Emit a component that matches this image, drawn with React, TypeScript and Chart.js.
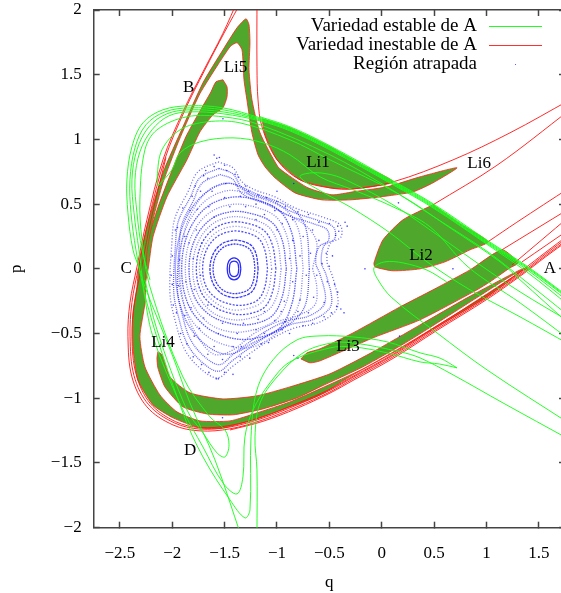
import React, { useEffect, useRef } from "react";
import { Chart, registerables } from "chart.js";
Chart.register(...registerables);

type P = [number, number];

const qTicks = [-2.5, -2, -1.5, -1, -0.5, 0, 0.5, 1, 1.5];
const pTicks = [-2, -1.5, -1, -0.5, 0, 0.5, 1, 1.5, 2];
const legendNames = ["Variedad estable de A", "Variedad inestable de A", "Región atrapada"];
const pointNames = ["Li5", "B", "Li1", "Li6", "Li2", "Li3", "Li4", "A", "C", "D"];
const pointQ = [-1.396, -1.843, -0.608, 0.93, 0.375, -0.322, -2.088, 1.606, -2.44, -1.83];
const pointP = [1.553, 1.399, 0.819, 0.811, 0.1, -0.603, -0.572, 0, 0, -1.4];

// Filled lobes
const lobeOuter: P[] = [[1.388,.015],[1.006,-.216],[.528,-.448],[.108,-.649],[-.274,-.819],[-.589,-.974],[-.876,-1.066],[-1.191,-1.159],[-1.516,-1.229],[-1.735,-1.229],[-1.993,-1.151],[-2.184,-1.051],[-2.328,-.858],[-2.375,-.603],[-2.375,-.34],[-2.337,-.139],[-2.318,.046],[-2.242,.325],[-2.089,.742],[-1.898,1.097],[-1.707,1.437],[-1.516,1.692],[-1.382,1.862],[-1.296,1.932],[-1.267,1.886],[-1.258,1.747],[-1.267,1.538],[-1.239,1.306],[-1.162,1.051],[-.99,.788],[-.895,.726],[-.704,.626],[-.475,.572],[-.274,.595],[.05,.634],[.366,.711],[.719,.781],[.49,.665],[.299,.595],[-.016,.556],[-.303,.533],[-.57,.533],[-.828,.587],[-1.019,.703],[-1.114,.788],[-1.181,.881],[-1.239,1.051],[-1.287,1.306],[-1.315,1.461],[-1.334,1.692],[-1.382,1.747],[-1.449,1.716],[-1.726,1.368],[-1.821,1.206],[-1.945,.974],[-2.089,.665],[-2.184,.379],[-2.242,.124],[-2.261,-.263],[-2.309,-.525],[-2.261,-.757],[-2.118,-.974],[-1.955,-1.105],[-1.735,-1.175],[-1.449,-1.175],[-1.191,-1.113],[-.876,-1.028],[-.589,-.927],[-.179,-.773],[.242,-.58],[.681,-.363],[1.254,-.062],[1.388,.015]];
const lobeLi4: P[] = [[-2.137,-.641],[-2.098,-.665],[-2.022,-.835],[-1.831,-.958],[-1.516,-1.005],[-1.191,-.981],[-.876,-.912],[-.494,-.811],[-.083,-.641],[.366,-.433],[.815,-.224],[1.321,-.008],[1.396,.008],[1.254,-.046],[.681,-.34],[.242,-.564],[-.179,-.757],[-.589,-.912],[-.809,-.997],[-1.134,-1.082],[-1.42,-1.128],[-1.668,-1.121],[-1.898,-1.066],[-2.07,-.912],[-2.137,-.765],[-2.146,-.688],[-2.137,-.641]];
const lobeLi3: P[] = [[-.771,-.696],[-.713,-.649],[-.589,-.618],[-.274,-.495],[.175,-.294],[.49,-.162],[.843,-.008],[1.148,.147],[1.301,.046],[1.225,.008],[1.034,-.1],[.91,-.162],[.366,-.394],[-.083,-.533],[-.589,-.711],[-.685,-.726],[-.771,-.696]];
const lobeLi2: P[] = [[.49,.495],[.748,.348],[1.014,.209],[.843,.147],[.604,.054],[.366,0],[.108,-.015],[-.064,.015],[-.074,.046],[.012,.224],[.203,.379],[.49,.495]];
const lobeLi1: P[] = [[-1.143,1.159],[-.876,1.09],[-.494,.943],[-.207,.811],[.108,.672],[-.274,.618],[-.494,.626],[-.78,.688],[-.999,.842],[-1.114,1.036],[-1.143,1.159]];
const lobeB: P[] = [[-1.516,1.461],[-1.477,1.406],[-1.477,1.329],[-1.516,1.244],[-1.611,1.19],[-1.735,1.059],[-1.86,.842],[-2.051,.556],[-2.184,.247],[-2.232,-.008],[-2.299,-.24],[-2.29,-.008],[-2.242,.201],[-2.135,.479],[-2.0,.765],[-1.87,1.02],[-1.745,1.206],[-1.63,1.368],[-1.583,1.445],[-1.516,1.461]];

// Unstable manifold
const redA: P[] = [[-1.372,2.08],[-1.516,1.82],[-1.707,1.522],[-1.898,1.214],[-2.089,.842],[-2.242,.379],[-2.337,.015],[-2.404,-.263],[-2.423,-.525],[-2.385,-.835],[-2.242,-1.066],[-1.993,-1.206],[-1.735,-1.252],[-1.449,-1.236],[-1.134,-1.167],[-.809,-1.066],[-.494,-.951],[-.274,-.85],[.108,-.68],[.528,-.464],[1.006,-.224],[1.35,-.031],[1.56,.1],[1.798,.24]];
const redB: P[] = [[-1.33,2.08],[-1.5,1.83],[-1.69,1.535],[-1.88,1.225],[-2.07,.85],[-2.225,.385],[-2.32,.02],[-2.385,-.26],[-2.403,-.525],[-2.365,-.825],[-2.225,-1.05],[-1.98,-1.19],[-1.735,-1.238],[-1.449,-1.222],[-1.134,-1.153],[-.809,-1.052],[-.494,-.938],[-.274,-.838],[.108,-.668],[.528,-.452],[1.006,-.212],[1.35,-.02],[1.56,.113],[1.798,.255]];
const redC: P[] = [[-2.06,.86],[-2.2,.39],[-2.29,.02],[-2.36,-.26],[-2.385,-.525],[-2.345,-.815],[-2.21,-1.04],[-1.97,-1.18],[-1.735,-1.226],[-1.449,-1.21],[-1.134,-1.142],[-.809,-1.04],[-.494,-.93],[-.274,-.83],[.108,-.66],[.528,-.44],[1.006,-.2],[1.35,-.005],[1.56,.125],[1.798,.27]];
const redD: P[] = [[-1.449,-1.245],[-1.134,-1.178],[-.809,-1.078],[-.494,-.96],[-.274,-.862],[.108,-.692],[.528,-.475],[1.006,-.235],[1.35,-.04],[1.56,.09],[1.798,.23]];
const redE: P[] = [[-1.191,2.1],[-1.191,1.561],[-1.181,1.306],[-1.143,1.097],[-.999,.842],[-.78,.688],[-.494,.626],[-.274,.618],[.108,.672],[.681,.842],[1.225,1.051],[1.798,1.306]];
const redF: P[] = [[.49,.495],[1.1,.8],[1.8,1.23]];
const redG: P[] = [[1.014,.209],[1.29,.36],[1.8,.63]];
const redH: P[] = [[1.148,.147],[1.8,.47]];
const redI: P[] = [[1.34,.054],[1.8,.31]];
const redJ: P[] = [[1.244,.03],[1.8,.41]];

// Stable manifold
const greenE1: P[] = [[-1.344,-2.06],[-1.592,-1.476],[-1.831,-1.036],[-1.993,-.68],[-2.261,-.139],[-2.309,-.008],[-2.375,.147],[-2.423,.433],[-2.433,.688],[-2.385,.943],[-2.28,1.128],[-2.089,1.229],[-1.831,1.26],[-1.516,1.244],[-1.162,1.167],[-.876,1.09],[-.494,.943],[.108,.672],[.49,.495],[1.014,.209],[1.396,.008],[1.798,-.232]];
const greenE2: P[] = [[.719,-.765],[.55,-.735],[.366,-.719],[.05,-.649],[-.274,-.603],[-.494,-.611],[-.876,-.719],[-1.067,-.881],[-1.229,-1.09],[-1.306,-1.298],[-1.325,-1.607],[-1.382,-1.739],[-1.516,-1.654],[-1.707,-1.376],[-1.898,-1.09],[-2.184,-.525],[-2.28,-.139],[-2.347,.147],[-2.394,.433],[-2.404,.688],[-2.356,.935],[-2.251,1.113],[-2.07,1.213],[-1.831,1.244],[-1.516,1.229],[-1.162,1.159],[-.876,1.082],[-.494,.935],[.108,.664],[.49,.487],[1.014,.201],[1.396,0],[1.798,-.24]];
const greenE3: P[] = [[.719,-.765],[.557,-.69],[.366,-.649],[.05,-.564],[-.274,-.526],[-.589,-.518],[-.809,-.549],[-1.038,-.703],[-1.191,-.935],[-1.248,-1.298],[-1.258,-1.862],[-1.306,-1.924],[-1.449,-1.785],[-1.707,-1.453],[-1.898,-1.113],[-2.242,-.263],[-2.318,.147],[-2.365,.433],[-2.385,.688],[-2.337,.92],[-2.223,1.097],[-2.051,1.198],[-1.831,1.229],[-1.516,1.213],[-1.162,1.151],[-.876,1.074],[-.494,.927],[.108,.657],[.49,.479],[1.014,.193],[1.396,-.012],[1.798,-.262]];
const greenE4: P[] = [[-2.213,-.085],[-2.289,.147],[-2.337,.433],[-2.356,.688],[-2.309,.904],[-2.194,1.074],[-2.032,1.182],[-1.831,1.213],[-1.516,1.198],[-1.162,1.143],[-.876,1.066],[-.494,.919],[.108,.649],[.49,.471],[1.014,.185],[1.396,-.03],[1.798,-.29]];
const greenE5: P[] = [[-1.162,1.175],[-.876,1.098],[-.494,.951],[.108,.68],[.49,.503],[1.014,.217],[1.396,.016],[1.798,-.225]];
const greenLong: P[] = [[-1.191,-2.06],[-1.191,-1.553],[-1.21,-1.298],[-1.162,-1.036],[-.999,-.835],[-.751,-.649],[-.494,-.575],[-.274,-.572],[.175,-.641],[.366,-.688],[.681,-.819],[1.158,-1.036],[1.798,-1.321]];
const greenLoop: P[] = [[1.798,-.371],[1.321,-.062],[1.014,.131],[.557,.371],[.05,.634],[-.494,.881],[-1.162,1.113],[-1.516,1.175],[-1.86,1.175],[-2.146,1.074],[-2.261,.92],[-2.309,.533],[-2.289,.224],[-2.213,-.139],[-1.898,-.835],[-1.64,-1.144],[-1.497,-1.244],[-1.458,-1.36],[-1.497,-1.453],[-1.573,-1.422],[-1.707,-1.267],[-1.86,-1.09],[-2.146,-.471],[-2.261,-.085]];
const greenC: P[] = [[-2.135,.641],[-2.144,.711],[-2.098,.92],[-1.926,1.074],[-1.668,1.136],[-1.353,1.128],[-.876,.997],[-.494,.842],[.175,.572],[.652,.317],[1.13,.054],[1.321,-.085],[1.798,-.433]];
const greenD: P[] = [[-2.135,.641],[-2.003,.765],[-1.926,.896],[-1.735,.981],[-1.42,1.012],[-1.134,.974],[-.876,.881],[-.589,.711],[-.274,.611],[.108,.479],[.461,.325],[.824,.015],[1.321,-.263],[1.798,-.549]];
const greenF: P[] = [[1.798,-.41],[1.321,-.178],[.938,.031],[.557,.247],[.108,.495],[-.303,.672],[-.475,.726],[-.666,.742],[-.78,.711],[-.57,.595],[-.303,.479],[.079,.278],[.433,.054],[.843,-.162],[1.321,-.371],[1.798,-.587]];
const greenH: P[] = [[.62,-.1],[.433,-.01],[.203,.046],[.03,.054],[-.074,.008],[-.035,-.085],[.098,-.224],[.528,-.495],[1.006,-.781],[1.798,-1.198]];

// Trapped region: invariant curves, inner to outer
const orbit1: P[] = [[-1.365,0],[-1.375,.045],[-1.41,.06],[-1.445,.045],[-1.455,0],[-1.445,-.045],[-1.41,-.06],[-1.375,-.045],[-1.365,0]];
const orbit2: P[] = [[-1.345,0],[-1.36,.06],[-1.41,.085],[-1.46,.06],[-1.475,0],[-1.46,-.06],[-1.41,-.085],[-1.36,-.06],[-1.345,0]];
const orbit3: P[] = [[-1.21,0],[-1.226,.095],[-1.266,.156],[-1.35,.186],[-1.43,.19],[-1.52,.162],[-1.586,.095],[-1.61,0],[-1.586,-.095],[-1.52,-.162],[-1.43,-.19],[-1.35,-.186],[-1.266,-.156],[-1.226,-.095],[-1.21,0]];
const orbit4: P[] = [[-1.18,0],[-1.198,.11],[-1.244,.18],[-1.341,.216],[-1.433,.22],[-1.537,.187],[-1.612,.11],[-1.64,0],[-1.612,-.11],[-1.537,-.187],[-1.433,-.22],[-1.341,-.216],[-1.244,-.18],[-1.198,-.11],[-1.18,0]];
const orbit5: P[] = [[-1.09,0],[-1.116,.145],[-1.18,.238],[-1.314,.284],[-1.44,.29],[-1.575,.247],[-1.674,.145],[-1.71,0],[-1.674,-.14],[-1.575,-.23],[-1.44,-.274],[-1.314,-.28],[-1.18,-.238],[-1.116,-.14],[-1.09,0]];
const orbit5b: P[] = [[-1.05,0],[-1.08,.162],[-1.15,.266],[-1.3,.318],[-1.443,.325],[-1.59,.276],[-1.7,.162],[-1.74,0],[-1.7,-.158],[-1.59,-.26],[-1.443,-.315],[-1.3,-.31],[-1.15,-.262],[-1.08,-.158],[-1.05,0]];
const orbit6: P[] = [[-1.01,0],[-1.042,.18],[-1.122,.295],[-1.29,.353],[-1.446,.36],[-1.608,.306],[-1.727,.18],[-1.77,0],[-1.727,-.175],[-1.608,-.287],[-1.446,-.343],[-1.29,-.35],[-1.122,-.298],[-1.042,-.175],[-1.01,0]];
const orbit6b: P[] = [[-.96,0],[-.995,.2],[-1.085,.327],[-1.275,.39],[-1.45,.4],[-1.627,.34],[-1.757,.2],[-1.805,0],[-1.757,-.195],[-1.627,-.33],[-1.45,-.39],[-1.275,-.385],[-1.085,-.32],[-.995,-.195],[-.96,0]];
const orbit7: P[] = [[-.91,0],[-.95,.22],[-1.05,.36],[-1.26,.43],[-1.453,.44],[-1.647,.374],[-1.788,.22],[-1.84,0],[-1.788,-.215],[-1.647,-.353],[-1.453,-.42],[-1.26,-.43],[-1.05,-.366],[-.95,-.215],[-.91,0]];
const orbit7b: P[] = [[-.86,0],[-.904,.248],[-1.014,.405],[-1.245,.485],[-1.456,.495],[-1.666,.42],[-1.82,.248],[-1.875,0],[-1.82,-.242],[-1.666,-.413],[-1.456,-.485],[-1.245,-.475],[-1.014,-.398],[-.904,-.242],[-.86,0]];
const orbit8: P[] = [[-.81,0],[-.858,.275],[-.978,.45],[-1.23,.54],[-1.46,.55],[-1.685,.468],[-1.85,.275],[-1.91,0],[-1.85,-.27],[-1.685,-.443],[-1.46,-.53],[-1.23,-.54],[-.978,-.46],[-.858,-.27],[-.81,0]];
const orbit8b: P[] = [[-.75,0],[-.794,.3],[-.924,.46],[-1.215,.56],[-1.465,.605],[-1.7,.514],[-1.875,.3],[-1.94,0],[-1.875,-.305],[-1.7,-.5],[-1.465,-.595],[-1.215,-.6],[-.924,-.44],[-.794,-.275],[-.75,0]];
const orbit9: P[] = [[-.69,0],[-.73,.33],[-.87,.47],[-1.2,.58],[-1.47,.66],[-1.72,.56],[-1.90,.33],[-1.97,0],[-1.90,-.34],[-1.72,-.56],[-1.47,-.66],[-1.2,-.56],[-.87,-.42],[-.73,-.28],[-.69,0]];
const orbit9b: P[] = [[-.66,0],[-.62,.2],[-.72,.33],[-.98,.45],[-1.22,.55],[-1.44,.66],[-1.63,.62],[-1.8,.46],[-1.9,.24],[-1.93,0],[-1.88,-.3],[-1.76,-.52],[-1.6,-.66],[-1.43,-.63],[-1.22,-.5],[-1.0,-.41],[-.8,-.36],[-.64,-.28],[-.62,-.14],[-.66,0]];
const orbit10: P[] = [[-1.545,.73],[-1.42,.69],[-1.345,.59],[-1.235,.54],[-1.066,.49],[-.898,.415],[-.646,.347],[-.52,.30],[-.51,.217],[-.60,.17],[-.63,.048],[-.59,-.04],[-.537,-.21],[-.563,-.292],[-.705,-.367],[-.898,-.40],[-1.066,-.463],[-1.235,-.55],[-1.427,-.666],[-1.545,-.74],[-1.68,-.687],[-1.823,-.55],[-1.907,-.347],[-1.95,-.163],[-1.933,.184],[-1.907,.347],[-1.80,.524],[-1.717,.66],[-1.545,.73]];
const orbit11: P[] = [[-1.554,.777],[-1.42,.733],[-1.34,.632],[-1.222,.573],[-1.043,.523],[-.863,.443],[-.594,.37],[-.459,.32],[-.45,.232],[-.549,.181],[-.576,.05],[-.532,-.043],[-.477,-.226],[-.504,-.312],[-.656,-.392],[-.863,-.429],[-1.043,-.494],[-1.222,-.588],[-1.43,-.712],[-1.554,-.791],[-1.698,-.734],[-1.851,-.588],[-1.941,-.37],[-1.986,-.174],[-1.968,.196],[-1.941,.37],[-1.824,.559],[-1.735,.705],[-1.554,.777]];
const orbit12: P[] = [[-1.563,.827],[-1.42,.78],[-1.334,.672],[-1.21,.61],[-1.019,.556],[-.828,.471],[-.542,.394],[-.398,.34],[-.389,.247],[-.494,.193],[-.522,.054],[-.475,-.046],[-.417,-.24],[-.446,-.332],[-.608,-.417],[-.828,-.456],[-1.019,-.526],[-1.21,-.626],[-1.43,-.757],[-1.563,-.842],[-1.716,-.781],[-1.879,-.626],[-1.974,-.394],[-2.022,-.185],[-2.003,.209],[-1.974,.394],[-1.85,.595],[-1.755,.75],[-1.563,.827]];
const trappedDots: P[] = [[-1.575,.855],[-1.6,.79],[-1.7,.72],[-1.78,.64],[-1.9,.47],[-1.97,.3],[-2.0,.1],[-2.01,-.05],[-1.99,-.28],[-1.92,-.5],[-1.8,-.68],[-1.65,-.8],[-1.5,-.8],[-1.35,-.68],[-1.15,-.58],[-.95,-.47],[-.75,-.44],[-.55,-.37],[-.43,-.29],[-.45,-.12],[-.5,.02],[-.53,.12],[-.44,.26],[-.42,.33],[-.6,.36],[-.8,.44],[-1.0,.52],[-1.18,.57],[-1.3,.64],[-1.4,.73],[-1.5,.8],[-1.66,.7],[-1.73,.6],[-1.83,.45],[-1.88,.25],[-1.93,.07],[-1.94,-.13],[-1.88,-.36],[-1.79,-.52],[-1.66,-.66],[-1.52,-.7],[-1.34,-.6],[-1.12,-.5],[-.92,-.41],[-.7,-.34],[-.55,-.26],[-.52,-.1],[-.57,.04],[-.6,.22],[-.66,.3],[-.85,.38],[-1.02,.45],[-1.2,.5],[-1.35,.56],[-1.49,.66],[-1.62,.6],[-1.76,.46],[-1.84,.2],[-1.87,-.1],[-1.82,-.3],[-1.74,-.46],[-1.6,-.6],[-1.42,-.6],[-1.2,-.47],[-1.02,-.4],[-.8,-.33],[-.65,-.22],[-.62,-.05],[-.68,.12],[-.75,.25],[-.95,.35],[-1.12,.42],[-1.3,.48],[-1.5,.55],[-1.65,.48],[-1.77,.3],[-1.8,.08],[-1.79,-.16],[-1.7,-.38],[-1.56,-.5],[-1.38,-.5],[-1.18,-.39],[-.96,-.33],[-.78,-.24],[-.72,-.05],[-.78,.1],[-.85,.22],[-1.0,.3],[-1.2,.38],[-1.45,.48],[-1.6,.4],[-1.72,.2],[-1.73,-.05],[-1.66,-.28],[-1.52,-.42],[-1.32,-.42],[-1.12,-.33],[-.93,-.25],[-.85,-.1],[-.88,.08],[-1.42,-.815],[-1.26,-.69],[-1.08,-.57],[-.88,-.5],[-.66,-.42],[-.48,-.34],[-.42,-.18],[-.47,.1],[-.41,.29],[-.5,.35],[-.7,.42],[-.92,.48],[-1.1,.55],[-1.27,.6],[-1.37,.71],[-1.48,.76],[-1.68,.76],[-1.81,.56],[-1.95,.32],[-2.0,-.12],[-1.96,-.34],[-1.86,-.58],[-1.72,-.74],[-1.58,-.85],[-1.56,-.85],[-1.6,.88],[-1.55,.86],[-1.0,.6],[-.33,.33],[-.35,.36],[-.39,-.31],[-.36,-.34],[-1.516,1.16],[-.84,.66],[.16,.51],[.17,-.52],[-1.52,-1.15],[-.84,-.67],[-.8,-.69],[-.16,0],[.68,0]];

function chartData(points: P[]) {
  return points.map(([x, y]) => ({ x, y }));
}
function curve(points: P[], color: string, order: number) {
  return { data: chartData(points), borderColor: color, borderWidth: 1, pointRadius: 0, tension: 0.35, fill: false, order };
}
function lobe(points: P[]) {
  return { data: chartData(points), borderColor: "rgba(255,40,30,0.85)", backgroundColor: "#4fa82b", borderWidth: 1, pointRadius: 0, tension: 0.2, fill: "shape", order: 5 };
}
function orbit(points: P[], dash: number[], alpha: number) {
  return { data: chartData(points), borderColor: `rgba(20,20,255,${alpha})`, borderWidth: 1.3, borderDash: dash, pointRadius: 0, tension: 0.35, fill: false, order: 6 };
}

const FONT = '"Liberation Serif", "Times New Roman", serif';
const AXIS = "#444444";
const minusText = (v: number) => String(v).replace("-", "\u2212");

const annotate = {
  id: "annotate",
  afterDraw(chart: any) {
    const { ctx, scales } = chart;
    ctx.save();
    ctx.fillStyle = "#000";
    ctx.font = `17px ${FONT}`;
    ctx.textAlign = "center";
    ctx.textBaseline = "middle";
    pointNames.forEach((name, i) => {
      ctx.fillText(name, scales.x.getPixelForValue(pointQ[i]), scales.y.getPixelForValue(pointP[i]));
    });
    ctx.textAlign = "right";
    ctx.font = `19px ${FONT}`;
    const rows = [26, 45, 64];
    const colors = ["#20ff20", "#ff3030"];
    legendNames.forEach((name, i) => {
      ctx.fillStyle = "#000";
      ctx.fillText(name, 477, rows[i]);
      if (i < 2) {
        ctx.strokeStyle = colors[i];
        ctx.lineWidth = 1;
        ctx.beginPath();
        ctx.moveTo(489, rows[i] + 0.5);
        ctx.lineTo(542, rows[i] + 0.5);
        ctx.stroke();
      } else {
        ctx.fillStyle = "#6060ff";
        ctx.fillRect(515, rows[i], 1, 1);
      }
    });
    ctx.restore();
  },
};

export default function App() {
  const ref = useRef<HTMLCanvasElement>(null);
  useEffect(() => {
    const green = "rgba(30,255,30,0.95)";
    const red = "rgba(255,20,20,0.9)";
    const axisCommon = (ticks: number[]) => ({
      type: "linear",
      afterBuildTicks: (s: any) => { s.ticks = ticks.map((value) => ({ value })); },
      border: { color: AXIS, width: 1.5 },
      grid: { drawOnChartArea: false, tickLength: -6, tickColor: AXIS, tickWidth: 1.5 },
    });
    const noPad = (s: any) => { s.paddingTop = 0; s.paddingBottom = 0; s.paddingLeft = 0; s.paddingRight = 0; };
    const chart = new Chart(ref.current!, {
      type: "line",
      data: {
        datasets: [
          lobe(lobeOuter), lobe(lobeLi4), lobe(lobeLi3), lobe(lobeLi2), lobe(lobeLi1), lobe(lobeB),
          ...[redA, redB, redC, redD, redE, redF, redG, redH, redI, redJ].map((c) => curve(c, red, 2)),
          ...[greenE1, greenE2, greenE3, greenE4, greenE5, greenLong, greenLoop, greenC, greenD, greenF, greenH].map((c) => curve(c, green, 1)),
          orbit(orbit1, [], 0.9), orbit(orbit2, [], 0.9),
          orbit(orbit3, [2, 1], 0.85), orbit(orbit4, [3, 1], 0.85),
          orbit(orbit5, [2, 1.5], 0.75), orbit(orbit5b, [1, 2], 0.55), orbit(orbit6, [2, 1.5], 0.75), orbit(orbit6b, [1, 1.5], 0.55),
          orbit(orbit7, [1.5, 1], 0.7), orbit(orbit7b, [1, 1.5], 0.55), orbit(orbit8, [1.5, 1], 0.7), orbit(orbit8b, [1, 1.5], 0.55),
          orbit(orbit9, [1, 1], 0.7), orbit(orbit9b, [1, 1.5], 0.55), orbit(orbit10, [1, 1], 0.65),
          orbit(orbit11, [1, 1], 0.65), orbit(orbit12, [1, 2], 0.65),
          { data: chartData(trappedDots), showLine: false, pointRadius: 0.8, pointBorderWidth: 0, pointBackgroundColor: "rgba(20,20,255,0.8)", order: 4 },
        ] as any,
      },
      options: {
        animation: false,
        responsive: false,
        events: [],
        layout: { padding: 0 },
        plugins: { legend: { display: false }, tooltip: { enabled: false } },
        scales: {
          x: {
            ...axisCommon(qTicks), position: "bottom", min: -2.75, max: 1.75,
            afterFit: (s: any) => { s.height = 65.3; noPad(s); },
            ticks: { autoSkip: false, maxRotation: 0, padding: 22, color: "#000", font: { family: FONT, size: 17 }, callback: (v: any) => minusText(v) },
            title: { display: true, text: "q", color: "#000", font: { family: FONT, size: 17 }, padding: { top: 0, bottom: 0 } },
          },
          y: {
            ...axisCommon(pTicks), position: "left", min: -2, max: 2,
            afterFit: (s: any) => { s.width = 93.7; noPad(s); },
            ticks: { autoSkip: false, padding: 18, color: "#000", font: { family: FONT, size: 17 }, callback: (v: any) => minusText(v) },
            title: { display: true, text: "p", color: "#000", font: { family: FONT, size: 17 }, padding: { top: 6, bottom: 0 } },
          },
          x2: {
            ...axisCommon(qTicks), position: "top", min: -2.75, max: 1.75,
            afterFit: (s: any) => { s.height = 10; noPad(s); },
            ticks: { display: false },
          },
          y2: {
            ...axisCommon(pTicks), position: "right", min: -2, max: 2,
            afterFit: (s: any) => { s.width = 7; noPad(s); },
            ticks: { display: false },
          },
        },
      } as any,
      plugins: [annotate],
    });
    return () => chart.destroy();
  }, []);
  return (
    <div style={{ position: "absolute", left: 0, top: 0, width: 561, height: 593, overflow: "hidden" }}>
      <canvas ref={ref} width={572} height={593} style={{ display: "block" }} />
    </div>
  );
}
